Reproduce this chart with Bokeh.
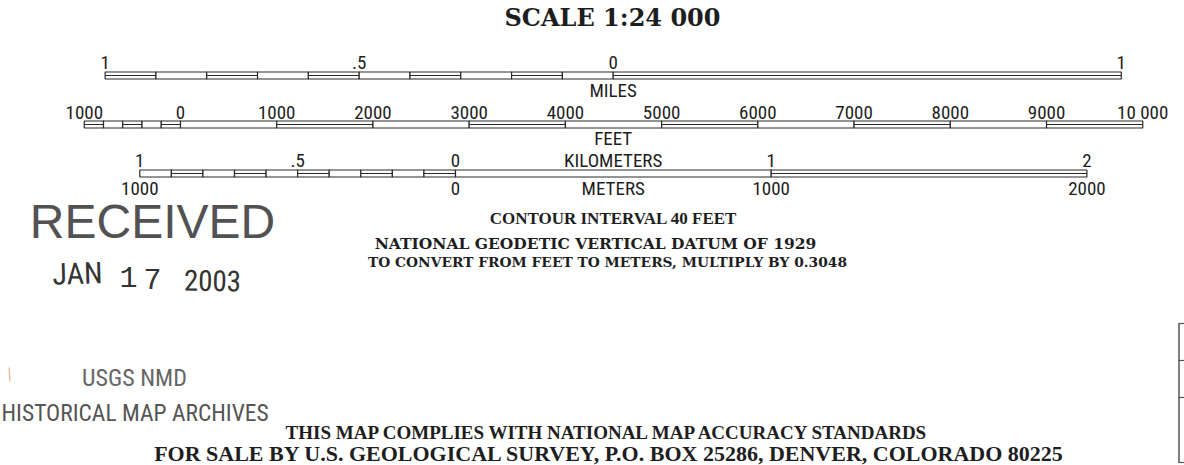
from bokeh.plotting import figure
from bokeh.models import Range1d, ColumnDataSource
from bokeh.core.properties import value
from bokeh.embed import file_html
from bokeh.resources import INLINE

# ---------------- data ----------------
miles_label_vals = [-1.0, -0.5, 0.0, 1.0]
miles_labels = ["1", ".5", "0", "1"]
miles_div = [-1.0, -0.9, -0.8, -0.7, -0.6, -0.5, -0.4, -0.3, -0.2, -0.1, 0.0, 1.0]
miles_fill = [1, 0, 1, 0, 1, 0, 1, 0, 1, 0, 1]

feet_label_vals = [-1000, 0, 1000, 2000, 3000, 4000, 5000, 6000, 7000, 8000, 9000, 10000]
feet_labels = ["1000", "0", "1000", "2000", "3000", "4000", "5000", "6000", "7000", "8000", "9000", "10 000"]
feet_div = [-1000, -800, -600, -400, -200, 0, 1000, 2000, 3000, 4000, 5000, 6000, 7000, 8000, 9000, 10000]
feet_fill = [1, 0, 1, 0, 1, 0, 1, 0, 1, 0, 1, 0, 1, 0, 1]

km_label_vals = [-1.0, -0.5, 0.0, 1.0, 2.0]
km_labels = ["1", ".5", "0", "1", "2"]
m_label_vals = [-1000, 0, 1000, 2000]
m_labels = ["1000", "0", "1000", "2000"]
km_div = [-1.0, -0.9, -0.8, -0.7, -0.6, -0.5, -0.4, -0.3, -0.2, -0.1, 0.0, 1.0, 2.0]
km_fill = [0, 1, 0, 1, 0, 1, 0, 1, 0, 1, 0, 1]

unit_m = {"mi": 1609.344, "ft": 0.3048, "km": 1000.0, "m": 1.0}

# ---------------- layout ----------------
W, H = 1184, 465
PX_PER_M = 0.3157
X0 = {"mi": 612.7, "ft": 180.0, "km": 455.0, "m": 455.0}

def xpos(vals, unit):
    return [X0[unit] + v * unit_m[unit] * PX_PER_M for v in vals]

NARROW = "'Liberation Sans Narrow', 'Roboto Condensed', 'Liberation Sans'"
SERIF_B = "'DejaVu Serif'"
SERIF_N = "'Liberation Serif'"
INK = "#1e1e1e"
LBL = "19px"

p = figure(width=W, height=H, output_backend="svg", toolbar_location=None,
           x_range=Range1d(0, W), y_range=Range1d(H, 0),
           min_border=0, outline_line_color=None)
p.axis.visible = False
p.grid.visible = False
p.background_fill_color = "white"
p.border_fill_color = "white"


def bar(divs, fills, unit, y0, y1):
    xs = xpos(divs, unit)
    src = ColumnDataSource(dict(left=xs[:-1], right=xs[1:],
                                top=[y0] * len(fills), bottom=[y1] * len(fills)))
    p.quad(left="left", right="right", top="top", bottom="bottom", source=src,
           fill_color="white", line_color="#2a2a2a", line_width=1.2)
    fl = [i for i, f in enumerate(fills) if f]
    ym = (y0 + y1) / 2
    p.segment(x0=[xs[i] for i in fl], x1=[xs[i + 1] for i in fl],
              y0=[ym] * len(fl), y1=[ym] * len(fl), line_color="#2a2a2a", line_width=1.2)


def labels(xs, ys, texts, size, font=NARROW, color=INK, style="normal", align="center", angle=0.0):
    p.text(x=xs, y=ys, text=texts, text_font=value(font), text_font_size=size,
           text_font_style=style, text_color=color, text_align=align,
           text_baseline="middle", angle=angle)

# miles
bar(miles_div, miles_fill, "mi", 71.5, 78.5)
labels(xpos(miles_label_vals, "mi"), [62] * 4, miles_labels, LBL)
labels([612.7], [89.5], ["MILES"], LBL)
# feet
bar(feet_div, feet_fill, "ft", 120.5, 127.5)
labels(xpos(feet_label_vals, "ft"), [111.5] * len(feet_labels), feet_labels, LBL)
labels([612.7], [138], ["FEET"], LBL)
# km / m
bar(km_div, km_fill, "km", 169.5, 176.5)
labels(xpos(km_label_vals, "km"), [160] * len(km_labels), km_labels, LBL)
labels([612.7], [160], ["KILOMETERS"], LBL)
labels(xpos(m_label_vals, "m"), [188] * len(m_labels), m_labels, LBL)
labels([612.7], [188], ["METERS"], LBL)

# headings
labels([612], [17], ["SCALE 1:24 000"], "24px", font=SERIF_B, style="bold")
labels([613], [218], ["CONTOUR INTERVAL 40 FEET"], "17px", font=SERIF_N, style="bold")
labels([595], [243], ["NATIONAL GEODETIC VERTICAL DATUM OF 1929"], "15.5px", font=SERIF_B, style="bold")
labels([607], [261], ["TO CONVERT FROM FEET TO METERS, MULTIPLY BY 0.3048"], "13.8px", font=SERIF_B, style="bold")
labels([608], [432], ["THIS MAP COMPLIES WITH NATIONAL MAP ACCURACY STANDARDS"], "19px",
       font=SERIF_N, style="bold")
labels([609], [453], ["FOR SALE BY U.S. GEOLOGICAL SURVEY, P.O. BOX 25286, DENVER, COLORADO 80225"], "22px",
       font=SERIF_N, style="bold")

# stamps
STAMP = "#525252"
labels([152], [221], ["RECEIVED"], "48px", font="'Liberation Sans'", color=STAMP)
labels([77], [273], ["JAN"], "30px", color="#333333", angle=0.03)
labels([128], [276], ["1"], "30px", font="'Liberation Mono'", color="#333333")
labels([152], [278], ["7"], "30px", font="'Liberation Mono'", color="#333333")
labels([212], [280], ["2003"], "29px", color="#333333", angle=-0.02)
labels([134], [377], ["USGS NMD"], "24px", color="#666666")
labels([1], [412], ["HISTORICAL MAP ARCHIVES"], "23.5px", color="#555555", align="left")

# small stray mark at left edge
p.segment(x0=[8.5], x1=[9.5], y0=[367], y1=[381], line_color="#e9b48c", line_width=1.2)

# right edge frame
p.segment(x0=[1178.5], x1=[1178.5], y0=[323], y1=[462], line_color="#555555", line_width=1.5)
p.segment(x0=[1178, 1178, 1178, 1178], x1=[1184, 1184, 1184, 1184], y0=[323, 360, 397, 462],
          y1=[323, 360, 397, 462], line_color="#555555", line_width=1.2)

open("out.html", "w").write(file_html(p, INLINE))
